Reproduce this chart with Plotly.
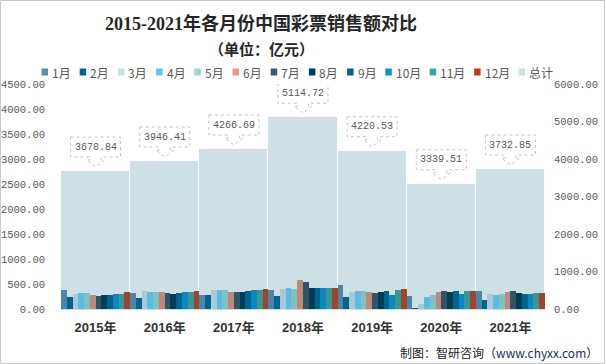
import plotly.graph_objects as go

years = ["2015年", "2016年", "2017年", "2018年", "2019年", "2020年", "2021年"]
months = ["1月", "2月", "3月", "4月", "5月", "6月", "7月", "8月", "9月", "10月", "11月", "12月"]
totals = [3678.84, 3946.41, 4266.69, 5114.72, 4220.53, 3339.51, 3732.85]

v2015 = [380, 240, 300, 320, 320, 280, 260, 280, 280, 300, 300, 340]
v2016 = [320, 220, 360, 340, 340, 340, 320, 300, 320, 340, 340, 360]
v2017 = [280, 280, 380, 380, 380, 340, 340, 340, 360, 380, 380, 400]
v2018 = [380, 260, 400, 420, 400, 580, 540, 420, 420, 420, 420, 420]
v2019 = [480, 240, 340, 360, 360, 340, 320, 340, 360, 280, 380, 400]
v2020 = [260, 20, 100, 240, 280, 340, 360, 340, 360, 300, 360, 360]
v2021 = [360, 180, 300, 280, 300, 340, 360, 320, 300, 300, 320, 320]
by_year = [v2015, v2016, v2017, v2018, v2019, v2020, v2021]

bar_colors = ["#4A87A6", "#00658A", "#A8CAD8", "#5ABCE2", "#80C1C4", "#C2867A",
              "#2D5667", "#003D57", "#00648C", "#0889C2", "#389792", "#A2432E"]
legend_colors = ["#5B8FA8", "#00668A", "#C8DEE6", "#5EC8F2", "#9ED8D4", "#F0967C",
                 "#3C5A68", "#003B55", "#00648A", "#0A96CC", "#3AA59A", "#C0391E"]
total_color = "#CDE0E6"
total_name = "总计"

# plot area geometry (pixels)
W, H = 606, 364
L, R, T, B = 61, 61, 84, 55
PW, PH = W - L - R, H - T - B


def px(x):
    return (x - L) / PW


def py(y):
    return (H - B - y) / PH


fig = go.Figure()

# totals on main axis (drawn underneath)
fig.add_trace(go.Bar(
    x=years, y=totals, name=total_name, yaxis="y",
    width=1, offset=-0.5,
    marker=dict(color=total_color, line=dict(color="rgba(255,255,255,0.8)", width=1)),
    showlegend=False, hoverinfo="x+y",
))

# monthly bars on overlaying axis (drawn on top)
n = len(months)
for i, m in enumerate(months):
    fig.add_trace(go.Bar(
        x=years, y=[v[i] for v in by_year], name=m, yaxis="y2",
        width=1 / n, offset=-0.5 + i / n,
        marker=dict(color=bar_colors[i], line=dict(width=0)),
        showlegend=False,
    ))

shapes = []
annotations = []

# callout boxes for totals
callout_path = ("M -25 34 L 25 34 L 25 14 L 5.5 14 L 5.5 11 L 9 11 L 0 4 "
                "L -9 11 L -5.5 11 L -5.5 14 L -25 14 Z")
for yr, tot in zip(years, totals):
    shapes.append(dict(
        type="path", xref="x", yref="y", xsizemode="pixel", ysizemode="pixel",
        xanchor=yr, yanchor=tot, path=callout_path,
        line=dict(color="#C4C4C4", width=1, dash="dot"), fillcolor="white", layer="above",
    ))
    annotations.append(dict(
        x=yr, y=tot, xref="x", yref="y", yshift=24, showarrow=False,
        text=f"{tot:.2f}", font=dict(family="Liberation Mono", size=10, color="#595959"),
    ))

# custom legend row
entries = list(zip(months, legend_colors)) + [(total_name, total_color)]
x_cur = 41.5
y_leg = 72
for label, col in entries:
    shapes.append(dict(
        type="rect", xref="paper", yref="paper",
        x0=px(x_cur), x1=px(x_cur + 6.5), y0=py(y_leg + 3.5), y1=py(y_leg - 3.5),
        fillcolor=col, line=dict(width=0),
    ))
    annotations.append(dict(
        x=px(x_cur + 8.5), y=py(y_leg), xref="paper", yref="paper",
        xanchor="left", yanchor="middle", showarrow=False, text=label,
        font=dict(family="Noto Sans CJK SC", size=12, color="#595959"),
    ))
    n_ascii = sum(1 for c in label if ord(c) < 128)
    n_cjk = len(label) - n_ascii
    x_cur += 9 + 6.2 * n_ascii + 12 * n_cjk + 11

# titles
annotations.append(dict(
    x=px(261), y=py(23), xref="paper", yref="paper", showarrow=False,
    xanchor="center", yanchor="middle",
    text="<b>2015-2021年各月份中国彩票销售额对比</b>",
    font=dict(family="Liberation Serif, Noto Sans CJK SC", size=18, color="#262626"),
))
annotations.append(dict(
    x=px(261), y=py(48), xref="paper", yref="paper", showarrow=False,
    xanchor="center", yanchor="middle",
    text="<b>（单位：亿元）</b>",
    font=dict(family="Noto Sans CJK SC", size=15, color="#262626"),
))
# footer
annotations.append(dict(
    x=px(600), y=py(352), xref="paper", yref="paper", showarrow=False,
    xanchor="right", yanchor="middle",
    text="制图：智研咨询（<span style='color:#1F2F6B'>www.chyxx.com</span>）",
    font=dict(family="Noto Sans CJK SC, Liberation Sans", size=12, color="#1A1A1A"),
))

# outer frame
shapes.append(dict(
    type="rect", xref="paper", yref="paper", layer="above",
    x0=px(0.5), x1=px(W - 1.5), y0=py(H - 0.5), y1=py(0.5),
    line=dict(color="#C9C9C9", width=1), fillcolor="rgba(0,0,0,0)",
))

fig.update_layout(
    width=W, height=H,
    margin=dict(l=L, r=R, t=T, b=B, pad=0, autoexpand=False),
    paper_bgcolor="white", plot_bgcolor="white",
    barmode="overlay", bargap=0,
    showlegend=False,
    xaxis=dict(
        type="category", showgrid=False, zeroline=False, automargin=False,
        showline=True, linecolor="#D9D9D9", linewidth=1,
        ticks="", ticklabelstandoff=6,
        tickfont=dict(family="Liberation Sans, Noto Sans CJK SC", size=13, color="#333333", weight="bold"),
    ),
    yaxis=dict(
        side="right", range=[0, 6000], dtick=1000, tickformat=".2f", automargin=False,
        showgrid=False, zeroline=False, showline=False, ticks="",
        ticklabelstandoff=8,
        tickfont=dict(family="Liberation Mono", size=10.5, color="#595959"),
    ),
    yaxis2=dict(
        side="left", overlaying="y", range=[0, 4500], dtick=500, tickformat=".2f", automargin=False,
        showgrid=False, zeroline=False, showline=False, ticks="",
        ticklabelstandoff=15,
        tickfont=dict(family="Liberation Mono", size=10.5, color="#595959"),
    ),
    shapes=shapes,
    annotations=annotations,
)

fig.write_html("out.html", config={"displayModeBar": False},
               post_script="document.body.style.margin='0px';")
